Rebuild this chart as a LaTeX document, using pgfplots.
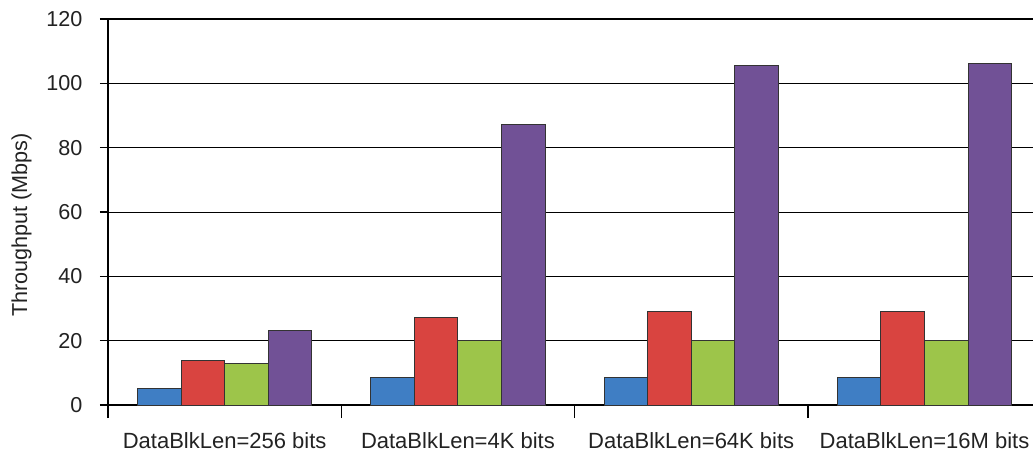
\documentclass[border=0pt]{standalone}
\usepackage{pgfplots}
\pgfplotsset{compat=1.18}
\usepackage{fontspec}
\setmainfont{Liberation Sans}

\definecolor{barblue}{HTML}{3F7EC4}
\definecolor{barred}{HTML}{D94440}
\definecolor{bargreen}{HTML}{9DC54A}
\definecolor{barpurple}{HTML}{715196}
\definecolor{txt}{HTML}{222222}

\begin{document}
\begin{tikzpicture}
\fontsize{10.8}{13}\selectfont
\begin{axis}[
    scale only axis,
    width=462.5pt, height=193pt,
    xmin=-0.5, xmax=3.465,
    ymin=0, ymax=120,
    axis lines=left,
    axis line style={-, line width=0.9pt, black},
    ymajorgrids,
    grid style={black, line width=0.5pt},
    ytick={0,20,...,120},
    ytick style={black, line width=0.7pt},
    tick align=outside,
    major tick length=4pt,
    yticklabel style={xshift=-5pt, text=txt},
    /pgf/number format/assume math mode=true,
    xtick={0,1,2,3},
    xticklabels={DataBlkLen=256 bits, DataBlkLen=4K bits, DataBlkLen=64K bits, DataBlkLen=16M bits},
    xtick style={draw=none},
    xticklabel style={yshift=-6pt, text=txt, font=\fontsize{11}{13}\selectfont},
    extra x ticks={-0.5,0.5,1.5,2.5},
    extra x tick labels={},
    extra x tick style={major tick length=6.5pt, xmajorgrids=false,
        every x tick/.style={draw=black, line width=0.7pt}},
    ylabel={Throughput (Mbps)},
    ylabel style={at={(ticklabel cs:0.466)}, text=txt},
    ybar=0pt,
    bar width=0.1866,
    every axis plot/.append style={draw=black!80, line width=0.5pt},
]
\addplot[fill=barblue] coordinates {(0,5.0) (1,8.4) (2,8.4) (3,8.4)};
\addplot[fill=barred] coordinates {(0,13.7) (1,27.3) (2,29.2) (3,29.2)};
\addplot[fill=bargreen] coordinates {(0,13.0) (1,20.0) (2,20.0) (3,20.0)};
\addplot[fill=barpurple] coordinates {(0,23.3) (1,87.3) (2,105.5) (3,106.3)};
\draw[line width=1.1pt] (rel axis cs:0,1) -- (rel axis cs:1,1);
\coordinate (bl) at (rel axis cs:0,0);
\coordinate (tr) at (rel axis cs:1,1);
\end{axis}
\pgfresetboundingbox
\path ([xshift=-54pt,yshift=-25pt]bl) rectangle ([yshift=9.5pt]tr);
\end{tikzpicture}
\end{document}
